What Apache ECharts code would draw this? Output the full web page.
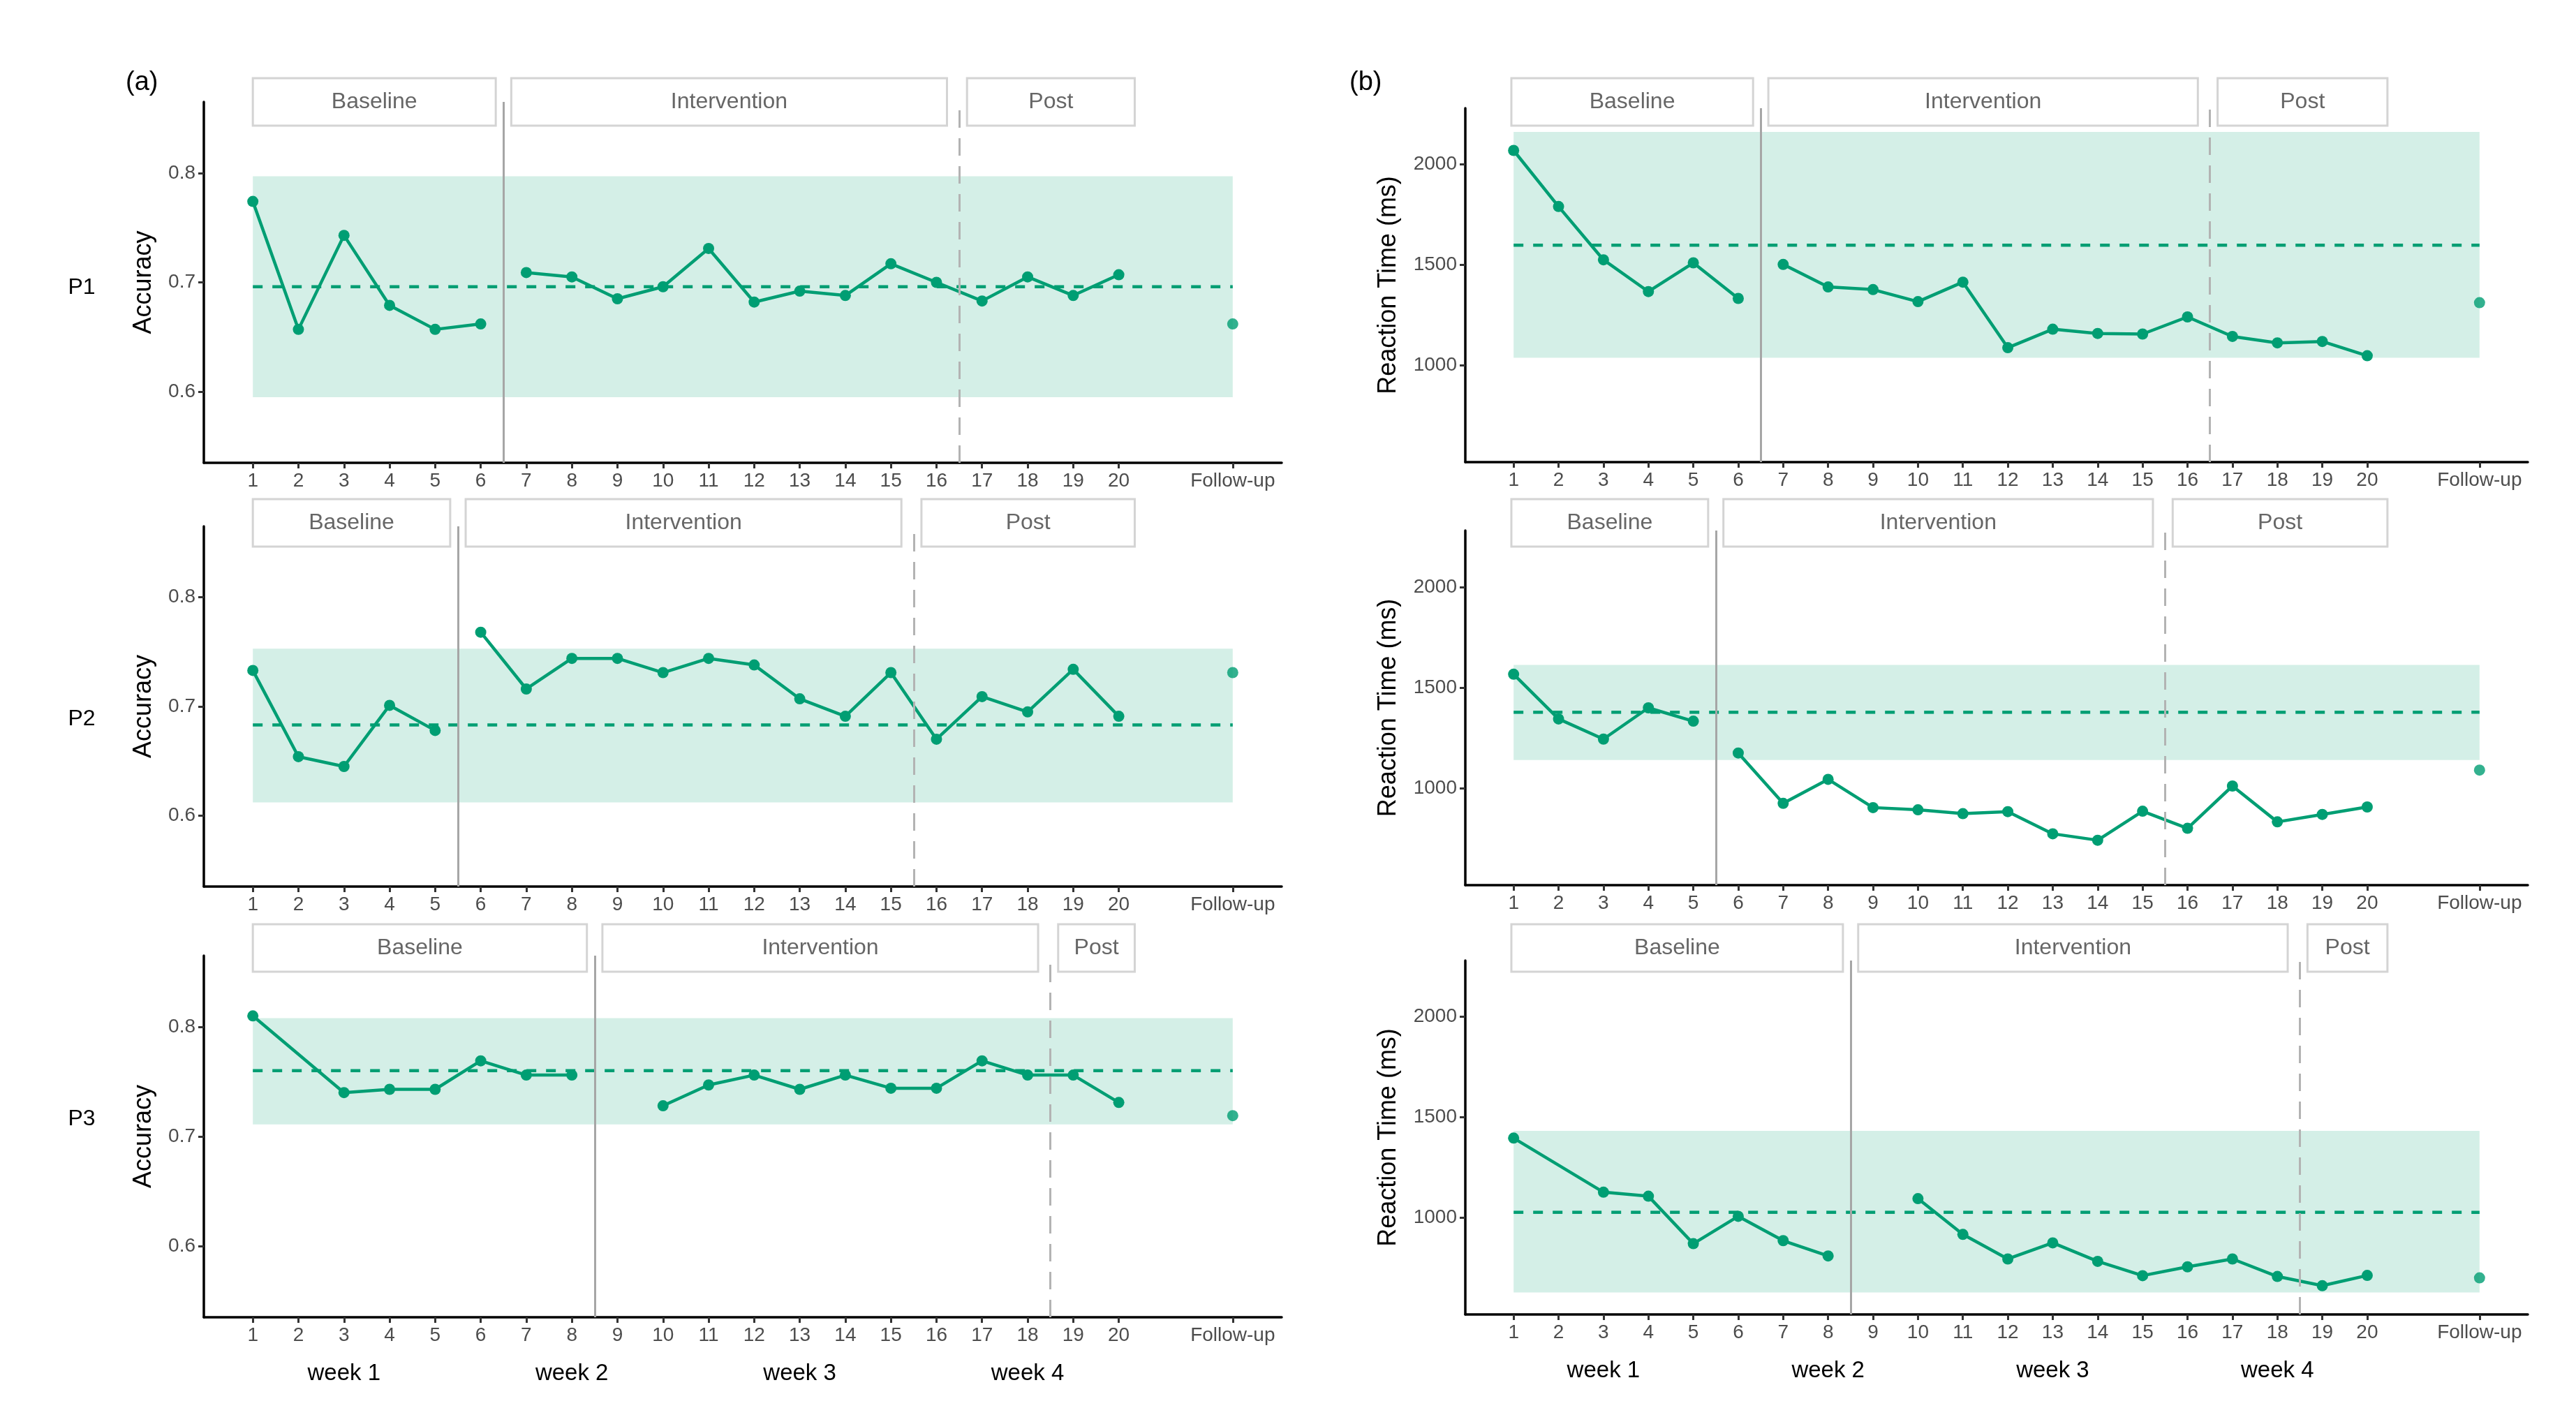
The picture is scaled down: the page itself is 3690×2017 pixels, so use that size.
<!DOCTYPE html>
<html>
<head>
<meta charset="utf-8">
<script src="https://cdn.jsdelivr.net/npm/echarts@6/dist/echarts.min.js"></script>
<style>html,body{margin:0;padding:0;background:#fff}#c{width:3690px;height:2017px}</style>
</head>
<body>
<div id="c"></div>
<script>
// ---------------- DATA ----------------
const sessions = [1,2,3,4,5,6,7,8,9,10,11,12,13,14,15,16,17,18,19,20];
const xTickValues = [1,2,3,4,5,6,7,8,9,10,11,12,13,14,15,16,17,18,19,20,22.5];
const followUpX = 22.5;
const followUpLabel = 'Follow-up';
const participants = ['P1','P2','P3'];
const phaseNames = ['Baseline','Intervention','Post'];
const weekLabels = ['week 1','week 2','week 3','week 4'];
const weekCenters = [3, 8, 13, 18];
const accTicks = [0.6, 0.7, 0.8];
const rtTicks = [1000, 1500, 2000];

// phase boundaries per participant (between sessions)
const baselineEnd = [6.5, 5.5, 8.5];
const postStart = [16.5, 15.5, 18.5];

// Accuracy
const accP1 = [0.774,0.657,0.743,0.679,0.657,0.662,0.709,0.705,0.685,0.696,0.731,0.682,0.692,0.688,0.717,0.700,0.683,0.705,0.688,0.707];
const accP2 = [0.733,0.654,0.645,0.701,0.678,0.768,0.716,0.744,0.744,0.731,0.744,0.738,0.707,0.691,0.731,0.670,0.709,0.695,0.734,0.691];
const accP3 = [0.810,null,0.740,0.743,0.743,0.769,0.756,0.756,null,0.728,0.747,0.756,0.743,0.756,0.744,0.744,0.769,0.756,0.756,0.731];
const accFollowUp = [0.662, 0.731, 0.719];
const accMean = [0.696, 0.683, 0.760];
const accBandLow = [0.595, 0.612, 0.711];
const accBandHigh = [0.797, 0.753, 0.808];

// Reaction time (ms)
const rtP1 = [2070,1791,1526,1368,1511,1334,1503,1391,1378,1318,1415,1089,1181,1160,1157,1242,1145,1113,1120,1049];
const rtP2 = [1567,1345,1245,1400,1334,1176,926,1045,905,894,875,885,775,743,887,802,1012,834,871,908];
const rtP3 = [1397,null,1128,1108,872,1008,887,811,null,1096,918,796,876,784,713,757,796,709,663,714];
const rtFollowUp = [1313, 1091, 702];
const rtMean = [1599, 1378, 1028];
const rtBandLow = [1039, 1141, 629];
const rtBandHigh = [2162, 1613, 1433];

// ---------------- STYLE / LAYOUT ----------------
const GREEN = '#009E73';
const BAND = 'rgba(0,158,115,0.17)';
const FONT = "'Liberation Sans', Arial, sans-serif";
const leftCol = {left: 292, width: 1544};
const rightCol = {left: 2099, width: 1522};
const leftRows = [{top:146,height:517},{top:754,height:516},{top:1369,height:518}];
const rightRows = [{top:155,height:507},{top:760,height:508},{top:1376,height:507}];
const boxTops = [112, 715, 1324];
const boxH = 68;

const chart = echarts.init(document.getElementById('c'), null, {renderer:'canvas'});

const grids = [], xAxes = [], yAxes = [], series = [];

function pairs(vals){
  const out = [];
  sessions.forEach((s,i)=>{ if (vals[i] !== null && vals[i] !== undefined) out.push([s, vals[i]]); });
  return out;
}

function addPanel(idx, row, isRT){
  const col = isRT ? rightCol : leftCol;
  const r = isRT ? rightRows[row] : leftRows[row];
  grids.push({left: col.left, width: col.width, top: r.top, height: r.height});
  xAxes.push({
    type:'value', gridIndex: idx, min: -0.075, max: 23.575,
    splitLine:{show:false},
    axisLine:{show:true, onZero:false, lineStyle:{color:'#000', width:3.5}},
    axisTick:{show:true, length:8, lineStyle:{color:'#333', width:3}, customValues: xTickValues},
    axisLabel:{show:true, customValues: xTickValues, fontSize:28, color:'#4d4d4d', margin:12, fontFamily:FONT,
      formatter: v => (v === followUpX ? followUpLabel : String(v))}
  });
  const ticks = isRT ? rtTicks : accTicks;
  yAxes.push({
    type:'value', gridIndex: idx,
    min: isRT ? 520 : 0.535, max: isRT ? 2280 : 0.865,
    name: isRT ? 'Reaction Time (ms)' : 'Accuracy',
    nameLocation:'middle', nameRotate:90, nameGap: isRT ? 92 : 68,
    nameTextStyle:{fontSize:36, color:'#000', fontFamily:FONT},
    splitLine:{show:false},
    axisLine:{show:true, onZero:false, lineStyle:{color:'#000', width:3.5}},
    axisTick:{show:true, length:8, lineStyle:{color:'#333', width:3}, customValues: ticks},
    axisLabel:{show:true, customValues: ticks, fontSize:28, color:'#4d4d4d', margin:12, fontFamily:FONT,
      formatter: v => isRT ? String(v) : v.toFixed(1)}
  });

  const vals = isRT ? [rtP1, rtP2, rtP3][row] : [accP1, accP2, accP3][row];
  const follow = isRT ? rtFollowUp[row] : accFollowUp[row];
  const mean = isRT ? rtMean[row] : accMean[row];
  const lo = isRT ? rtBandLow[row] : accBandLow[row];
  const hi = isRT ? rtBandHigh[row] : accBandHigh[row];
  const b = baselineEnd[row], p = postStart[row];
  const all = pairs(vals);

  // band + mean line + phase lines
  series.push({
    type:'line', xAxisIndex: idx, yAxisIndex: idx, z: 2,
    data: [[1, mean], [followUpX, mean]],
    symbol:'none', lineStyle:{color:GREEN, width:4.5, type:[14,14]},
    markArea:{silent:true, itemStyle:{color:BAND}, data:[[{coord:[1, lo]}, {coord:[followUpX, hi]}]]},
    markLine:{silent:true, symbol:'none', label:{show:false},
      data:[
        {xAxis: b, lineStyle:{color:'#a6a6a6', width:3, type:'solid'}},
        {xAxis: p, lineStyle:{color:'#b3b3b3', width:3, type:[25,15]}}
      ]}
  });
  // baseline line
  series.push({
    type:'line', xAxisIndex: idx, yAxisIndex: idx, z: 4,
    data: all.filter(d => d[0] < b),
    symbol:'circle', symbolSize:16, itemStyle:{color:GREEN},
    lineStyle:{color:GREEN, width:4.5}
  });
  // intervention + post line
  series.push({
    type:'line', xAxisIndex: idx, yAxisIndex: idx, z: 4,
    data: all.filter(d => d[0] > b),
    symbol:'circle', symbolSize:16, itemStyle:{color:GREEN},
    lineStyle:{color:GREEN, width:4.5}
  });
  // follow-up point
  series.push({
    type:'scatter', xAxisIndex: idx, yAxisIndex: idx, z: 4,
    data: [[followUpX, follow]], symbolSize:16, itemStyle:{color:GREEN}
  });
  // phase boxes
  const postEnd = isRT ? 20.45 : 20.35;
  const boxes = [[isRT ? 0.95 : 1.0, b - 0.17], [b + 0.17, p - 0.27], [p + 0.17, postEnd]];
  const midY = isRT ? 1400 : 0.7;
  series.push({
    type:'custom', xAxisIndex: idx, yAxisIndex: idx, z: 10, clip:false, silent:true,
    data: boxes.map((bx,i)=>({value:[bx[0], bx[1]], name: phaseNames[i]})),
    renderItem: (params, api) => {
      const x0 = api.coord([api.value(0), midY])[0];
      const x1 = api.coord([api.value(1), midY])[0];
      const top = boxTops[row];
      return {type:'group', children:[
        {type:'rect', shape:{x:x0, y:top, width:x1-x0, height:boxH},
          style:{fill:'#fff', stroke:'#d4d4d4', lineWidth:3}},
        {type:'text', style:{text: phaseNames[params.dataIndex], x:(x0+x1)/2, y: top + boxH/2,
          align:'center', verticalAlign:'middle', fontSize:32, fontFamily:FONT, fill:'#666'}}
      ]};
    }
  });
  // week labels under last row
  if (row === 2){
    series.push({
      type:'custom', xAxisIndex: idx, yAxisIndex: idx, z: 10, clip:false, silent:true,
      data: weekCenters.map((w,i)=>({value:[w], name: weekLabels[i]})),
      renderItem: (params, api) => {
        const x = api.coord([api.value(0), midY])[0];
        const y = params.coordSys.y + params.coordSys.height + 81;
        return {type:'text', style:{text: weekLabels[params.dataIndex], x:x, y:y,
          align:'center', verticalAlign:'middle', fontSize:33, fontFamily:FONT, fill:'#000'}};
      }
    });
  }
}

let k = 0;
for (let r = 0; r < 3; r++){ addPanel(k++, r, false); }
for (let r = 0; r < 3; r++){ addPanel(k++, r, true); }

const labelPos = [412, 1030, 1603];
const graphics = [
  {type:'text', left: 180, top: 100, style:{text:'(a)', fontSize:38, fontFamily:FONT, fill:'#000'}},
  {type:'text', left: 1933, top: 100, style:{text:'(b)', fontSize:38, fontFamily:FONT, fill:'#000'}}
];
participants.forEach((pName, i) => {
  graphics.push({type:'text', x: 117, y: labelPos[i], style:{text:pName, fontSize:32, fontFamily:FONT, fill:'#000', align:'center', verticalAlign:'middle'}});
});

chart.setOption({
  animation:false,
  backgroundColor:'#fff',
  textStyle:{fontFamily:FONT},
  grid: grids, xAxis: xAxes, yAxis: yAxes, series: series,
  graphic: graphics
});
</script>
</body>
</html>
